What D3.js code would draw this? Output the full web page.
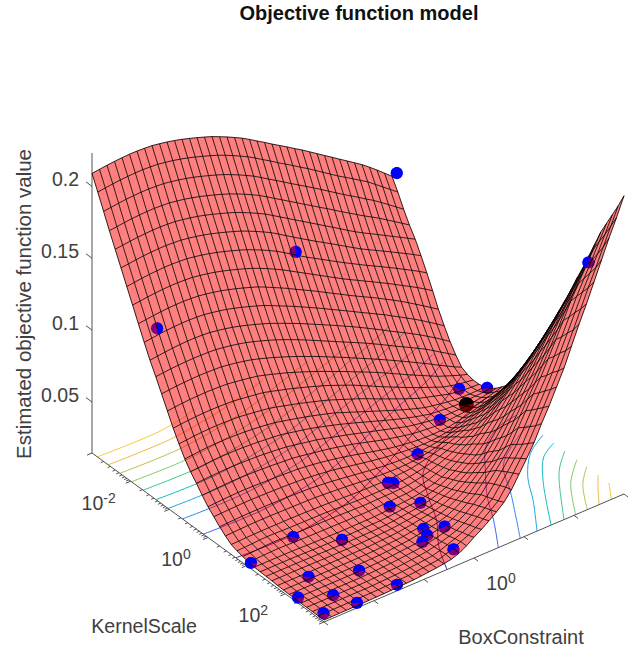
<!DOCTYPE html>
<html>
<head>
<meta charset="utf-8">
<script src="https://cdn.jsdelivr.net/npm/d3@7"></script>
<style>
body { margin: 0; background: white; }
text { font-family: "Liberation Sans", Arial, sans-serif; fill: #404040; }
</style>
</head>
<body>
<div id="chart"></div>
<script>
// objective value x 1000, one row per KernelScale step, one column per BoxConstraint step
// both run evenly over the log range 1e-3..1e3
const surfaceValues = [
[209,209.6,210.2,210.7,211,211.2,211.2,210.9,210.5,209.6,208.6,207.4,206,204.4,202.7,200.9,199,196.7,194.3,191.7,189,185.9,182.6,179.4,176,172.8,169.6,166.2,163,159.5,156,152.5,149,145.5,142,138.5,135,131,126.8,122.4,118],
[199,199.6,200.2,200.7,201,201.2,201.2,200.9,200.5,199.6,198.6,197.4,196,194.4,192.7,190.9,189,186.7,184.3,181.7,179,175.9,172.6,169.4,166,162.8,159.6,156.2,153,149.5,146,142.5,139,135.8,132.6,129.2,126,122,118,114,110],
[188.5,189.1,189.7,190.2,190.5,190.7,190.7,190.4,190,189.1,188.1,186.9,185.5,183.9,182.2,180.4,178.5,176.2,173.8,171.2,168.5,165.3,162,158.8,155.5,152.2,149,145.8,142.5,139.2,135.8,132.4,129,125.8,122.6,119.2,116,112.4,108.6,104.8,101],
[178,178.6,179.2,179.7,180,180.2,180.2,179.9,179.5,178.6,177.6,176.4,175,173.4,171.7,169.9,168,165.7,163.3,160.7,158,154.8,151.5,148.3,145,141.8,138.5,135.3,132,128.8,125.5,122.2,119,115.8,112.6,109.6,106.5,103.2,99.8,96.4,93],
[168,168.6,169.2,169.7,170,170.2,170.2,169.9,169.5,168.6,167.6,166.4,165,163.4,161.7,159.9,158,155.7,153.3,150.7,148,144.8,141.5,138.3,135,131.8,128.5,125.3,122,118.8,115.5,112.2,109,106,103.2,100.4,97.5,94.6,91.8,88.9,86],
[158,158.6,159.2,159.7,160,160.2,160.2,159.9,159.5,158.6,157.6,156.4,155,153.4,151.7,149.9,148,145.7,143.3,140.7,138,134.8,131.5,128.2,125,121.8,118.6,115.6,112.5,109.4,106.2,103.1,100,97.2,94.5,91.8,89,86.2,83.4,80.5,77.5],
[148,148.6,149.2,149.7,150,150.2,150.2,149.9,149.5,148.6,147.6,146.4,145,143.4,141.7,139.9,138,135.7,133.3,130.7,128,124.8,121.5,118.2,115,112,109,106,103,100,97.2,94.3,91.5,88.8,86.1,83.3,80.5,77.6,74.7,71.7,68.5],
[138,138.6,139.2,139.7,140,140.2,140.2,139.9,139.5,138.6,137.6,136.4,135,133.4,131.7,129.9,128,125.7,123.3,120.7,118,115,112,109,106,103,100,97,94,91.2,88.5,85.7,83,80.2,77.4,74.5,71.5,68.6,65.6,62.4,59],
[128,128.6,129.2,129.7,130,130.2,130.2,129.9,129.5,128.6,127.6,126.4,125,123.4,121.7,119.9,118,115.6,113.1,110.6,108,105.2,102.5,99.8,97,94.1,91.2,88.4,85.5,82.7,80,77.3,74.5,71.6,68.7,65.7,62.5,59.2,55.9,52.5,49],
[118,118.6,119.2,119.7,120,120.2,120.2,119.9,119.5,118.6,117.6,116.4,115,113.4,111.7,109.9,108,105.7,103.3,100.9,98.5,95.9,93.3,90.7,88,85.2,82.5,79.8,77,74.2,71.5,68.7,66,63,60,57,54,50.8,47.4,44,40.5],
[108.5,109.1,109.7,110.2,110.5,110.7,110.7,110.4,110,109.1,108.1,106.9,105.5,103.9,102.2,100.4,98.5,96.3,94.1,91.8,89.5,87,84.5,82,79.5,76.9,74.3,71.7,69,66.2,63.4,60.5,57.5,54.7,51.9,49,46,42.8,39.5,36.1,32.5],
[100,100.5,101,101.3,101.5,101.6,101.5,101.3,101,100.2,99.3,98.2,97,95.4,93.7,91.9,90,87.9,85.7,83.4,81,78.5,76,73.5,71,68.5,66,63.5,61,58.3,55.6,52.8,50,47.3,44.6,41.8,39,35.8,32.5,29.3,26],
[91,91.5,92,92.3,92.5,92.6,92.5,92.3,92,91.2,90.3,89.2,88,86.4,84.7,82.9,81,79,76.9,74.7,72.5,70.2,67.8,65.4,63,60.5,58,55.5,53,50.4,47.8,45.2,42.5,39.8,37,34.3,31.5,28.5,25.8,23,20.5],
[82,82.5,83,83.3,83.5,83.6,83.5,83.3,83,82.2,81.4,80.5,79.5,78,76.4,74.7,73,71.1,69.1,67.1,65,62.8,60.5,58.3,56,53.6,51.3,48.9,46.5,43.9,41.3,38.7,36,33.5,31,28.5,26,24,22,20.1,18.5],
[73,73.5,74,74.3,74.5,74.6,74.5,74.3,74,73.3,72.6,71.8,71,69.6,68.1,66.6,65,63.3,61.6,59.8,58,56,53.8,51.7,49.5,47,44.5,42,39.5,37.1,34.7,32.3,30,27.8,25.7,23.6,21.5,20.2,19,18.2,17.5],
[65,65.5,66,66.3,66.5,66.6,66.5,66.3,66,65.3,64.6,63.8,63,61.7,60.3,58.9,57.5,55.9,54.3,52.7,51,49,47,45,43,40.8,38.5,36.2,34,31.8,29.6,27.5,25.5,24,22.5,21,19.5,18.7,18,17.7,17.5],
[57.5,57.9,58.4,58.8,59,59,59,58.8,58.5,58,57.5,56.8,56,54.8,53.6,52.3,51,49.6,48.1,46.6,45,43,41,39,37,35,33,31,29,27.1,25.3,23.6,22,21,20,19.2,18.5,18.2,18.1,18.2,18.5],
[51.5,51.9,52.4,52.8,53,53,53,52.8,52.5,52.1,51.6,51.1,50.5,49.4,48.3,47.2,46,44.6,43.1,41.6,40,38.3,36.6,34.8,33,31.2,29.4,27.7,26,24.5,23,21.7,20.5,20,19.5,19.2,19,19.3,19.6,20,20.5],
[46.5,46.8,47.1,47.3,47.5,47.5,47.4,47.2,47,46.6,46.1,45.6,45,44,43,42,41,39.7,38.3,36.9,35.5,34,32.5,31,29.5,28,26.5,25,23.5,22.4,21.5,20.7,20,19.8,19.8,19.9,20,20.7,21.5,22.4,23.5],
[41,41.3,41.6,41.8,42,42,41.9,41.7,41.5,41.2,40.8,40.4,40,39.2,38.3,37.4,36.5,35.5,34.4,33.2,32,30.5,29,27.5,26,24.8,23.6,22.5,21.5,20.8,20.3,19.9,19.8,20.2,20.6,21.2,22,23.2,24.5,26,27.5],
[36,36.3,36.6,36.8,37,37,36.9,36.7,36.5,36.3,36.1,35.8,35.5,34.9,34.2,33.4,32.5,31.5,30.4,29.2,28,26.7,25.4,24.2,23,22.1,21.3,20.6,20,19.8,19.7,19.8,20,21,22.2,23.5,25,26.5,28.1,29.8,31.5],
[32,32.2,32.4,32.6,32.8,32.8,32.7,32.6,32.5,32.3,32.1,31.8,31.5,31,30.4,29.7,29,28,27,26,25,24.1,23.2,22.4,21.8,21.2,20.8,20.4,20.2,20.4,20.8,21.6,22.5,24,25.8,27.6,29.5,31.6,33.8,36.1,38.5],
[28,28.2,28.4,28.6,28.7,28.7,28.7,28.6,28.5,28.4,28.2,28,27.8,27.3,26.8,26.2,25.5,24.8,24,23.3,22.5,21.9,21.4,21,20.7,20.6,20.7,21,21.5,22.4,23.5,24.7,26,28.1,30.3,32.6,35,37.8,40.6,43.5,46.5],
[24.5,24.7,24.9,25.1,25.2,25.2,25.2,25.1,25,24.9,24.8,24.7,24.5,24.2,23.8,23.4,23,22.5,22,21.5,21,20.7,20.5,20.4,20.5,20.9,21.5,22.4,23.5,25,26.5,28.2,30,32.6,35.3,38.1,41,44.3,47.7,51.3,55],
[21.5,21.6,21.8,21.9,22,22,22,22,22,21.9,21.8,21.6,21.5,21.3,21,20.8,20.5,20.3,20.2,20.1,20,20.1,20.3,20.6,21,22.1,23.3,24.6,26,27.8,29.7,31.8,34,37,40.2,43.5,47,51,55,59.4,64],
[20,20.2,20.5,20.8,21,20.9,20.7,20.6,20.5,20.4,20.4,20.3,20.2,20,19.7,19.5,19.3,19.2,19.2,19.2,19.2,19.4,19.7,20.4,21.3,22.5,23.9,25.6,27.5,29.7,32.1,34.9,38,41.5,45.2,49.4,54,58.5,63,68,73],
[19,19.2,19.5,19.8,20,19.9,19.8,19.6,19.5,19.4,19.4,19.3,19.2,19.1,18.9,18.8,18.6,18.7,18.8,18.9,19,19.2,19.6,20.5,21.7,23.1,24.9,27,29.5,32.3,35.6,39.1,43,47.1,51.5,56.1,61,66,71,76.5,82],
[18,18.2,18.4,18.6,18.7,18.6,18.4,18.3,18.2,18.1,18.1,18,18,17.9,17.9,17.8,17.8,18,18.2,18.4,18.7,18.9,19.5,20.6,22,23.9,26,28.6,31.5,35,38.8,43.2,48,53,58,63.4,69,74.4,79.8,85.4,91],
[17.5,17.5,17.5,17.5,17.5,17.4,17.3,17.1,17,16.9,16.9,16.8,16.8,16.8,16.9,16.9,17,17.3,17.7,18.1,18.5,18.9,19.7,21,22.5,24.6,27.4,30.6,34,38.6,43.4,48.6,54,59.6,65.2,71,77,83,89,95,101],
[17.2,17.2,17.2,17.2,17.2,17.1,17,16.9,16.8,16.8,16.7,16.7,16.7,16.8,16.9,17,17.1,17.5,17.9,18.5,19,19.6,20.6,22.1,24,26.6,29.6,33,36.5,41.5,47,53,59,65.4,71.8,78.4,85,91.4,98,104.4,111],
[17,17,17,17,17,16.9,16.8,16.8,16.7,16.7,16.6,16.6,16.6,16.7,16.8,17,17.2,17.7,18.3,18.9,19.5,20.4,21.6,23.4,25.5,28.4,31.6,35.2,39,44.6,50.6,57.2,64,71,78,85.4,93,100,107,114,121],
[16.8,16.8,16.8,16.8,16.8,16.7,16.7,16.6,16.6,16.6,16.6,16.6,16.6,16.8,17,17.2,17.5,18.1,18.7,19.4,20.2,21.2,22.6,24.6,27,30.4,34,38.2,42.5,48.6,55.2,62.4,70,77.6,85.2,93,101,108.4,116,123.4,131],
[16.5,16.5,16.5,16.5,16.5,16.5,16.5,16.5,16.5,16.5,16.5,16.5,16.5,16.8,17.1,17.4,17.8,18.5,19.2,20.1,21,22,23.6,26,29,32.8,37,41.6,47,53.5,60.6,68.2,76,84.4,92.6,101.2,110,117.8,126,134,142],
[16.3,16.3,16.3,16.3,16.3,16.3,16.3,16.3,16.3,16.3,16.4,16.5,16.6,16.9,17.2,17.6,18,18.8,19.6,20.6,21.7,23,25,27.8,31,35.4,40.2,45.2,50.5,57.6,65.6,73.6,82,90.8,99.8,108.8,118,126.4,135,143.4,152],
[16.2,16.2,16.2,16.2,16.2,16.2,16.2,16.2,16.2,16.3,16.4,16.5,16.7,17,17.4,17.9,18.3,19.2,20.1,21.2,22.3,24,26.4,29.6,33,38,43,48.4,54,62,70.6,79.2,88,97.4,107,117,127,136,145,154,163],
[16.1,16.1,16.1,16.1,16.1,16.1,16.1,16.1,16.1,16.3,16.4,16.6,16.8,17.2,17.7,18.1,18.6,19.6,20.6,21.8,23,25,27.8,31.4,35.5,41,46.8,52.8,59,67.6,76.6,85.8,95,105,115,125.4,136,145.2,155,164.4,174],
[16,16,16,16,16,16,16,16,16,16.2,16.4,16.7,17,17.4,17.9,18.4,19,20,21.1,22.4,24,26.4,29.6,33.6,38,44,50.4,57,64,73.4,83,92.4,102,112.6,123.6,134.6,146,155.6,165.4,175,185],
[16,16,16,16,16,16,16,16,16.1,16.3,16.5,16.8,17,17.5,18,18.5,19.1,20.3,21.6,23.2,25,27.8,31.2,35.2,39.5,46,52.8,59.8,67,76.6,86.4,96.2,106,117,128.4,140,152,162.4,172.8,183.4,194],
[16,16,16,16,16.1,16.1,16.1,16.1,16.2,16.4,16.6,16.9,17.1,17.6,18.1,18.6,19.2,20.6,22.4,24.4,26.5,29.4,33,37,41,48,55.2,62.6,70,80,90.2,100.4,111,122.4,134,146,158,169,180,191.4,203],
[16,16,16,16,16.1,16.1,16.2,16.2,16.3,16.5,16.7,17,17.2,17.7,18.2,18.7,19.3,21,23,25.2,27.5,30.6,34.4,38.4,42.5,49.8,57.4,65.4,73.5,83.6,94,104.4,115,126.8,139,151.4,164,175.6,187.8,200,212],
[16,16,16.1,16.1,16.2,16.2,16.3,16.4,16.5,16.7,16.9,17.1,17.3,17.8,18.3,18.9,19.5,20.5,22.3,25.3,29,32.3,36,40,44.5,51,59.5,68,77,88,98,109,120,133,146,158,171,184,197,209,222]
];

// tick labels and axis text
const zTicks = [0.05, 0.1, 0.15, 0.2];
const kernelMajorTicks = [-3, -2, -1, 0, 1, 2, 3];
const kernelLabels = [-2, 0, 2];
const boxMajorTicks = [-3, -2, -1, 0, 1, 2, 3];
const boxLabels = [0];
const minorSteps = [2, 3, 4, 5, 6, 7, 8, 9];

// evaluated points, log10 of the two parameters and the objective
const pointKernel = [-2.88, -2.1, -1.68, 2.16, -0.72, -0.54, -0.21, 0.38, 0.66, 0.72, 1.42, 1.17, 2.24, 2.04, 2.29, 2.22, 2.82, 0.96, 1.41, 1.11, 1.9, 2.24, 2.91, 2.54, 2.25, 2.92, 2.91];
const pointBox = [3, 0.375, -2.72, 2.94, 2.58, 3, 1.8, 0.9, 0.09, 0.15, 0.15, -0.27, 0, -0.27, -0.48, -0.33, -0.27, -2.04, -1.41, -3, -2.46, -1.71, -1.47, -2.46, -2.94, -2.28, -2.94];
const pointValue = [0.1226, 0.122, 0.123, 0.16, 0.021, 0.019, 0.021, 0.022, 0.0197, 0.0197, 0.0197, 0.0184, 0.0215, 0.02, 0.019, 0.02, 0.021, 0.0195, 0.017, 0.0186, 0.0165, 0.0162, 0.016, 0.0162, 0.016, 0.0156, 0.018];
const bestPoint = [-0.3, 2.4, 0.021];

// floor contours, [fraction along KernelScale, fraction along BoxConstraint]
const contourLevels = [0.02, 0.04, 0.06, 0.08, 0.1, 0.12, 0.14, 0.16, 0.18, 0.2, 0.22];
const contourColors = ['#3e26a8', '#4060f0', '#2d87f7', '#1ca6e0', '#13bcc0', '#40c590', '#85ca68', '#c2bf50', '#eeba48', '#fcc93a', '#f9fb15'];
const contourLeft = [
    [[0.62, 0], [0.625, 0.2], [0.59, 0.4], [0.55, 0.5], [0.505, 0.6], [0.454, 0.7], [0.406, 0.8], [0.36, 0.9], [0.3, 1]],
    [[0.48, 0], [0.484, 0.2], [0.456, 0.4], [0.426, 0.5], [0.386, 0.6], [0.345, 0.7], [0.306, 0.8], [0.27, 0.9], [0.22, 1]],
    [[0.39, 0], [0.394, 0.2], [0.367, 0.4], [0.34, 0.5], [0.308, 0.6], [0.278, 0.7], [0.246, 0.8], [0.216, 0.9], [0.175, 1]],
    [[0.328, 0], [0.332, 0.2], [0.305, 0.4], [0.28, 0.5], [0.248, 0.6], [0.216, 0.7], [0.186, 0.8], [0.155, 0.9], [0.12, 1]],
    [[0.276, 0], [0.28, 0.2], [0.25, 0.4], [0.226, 0.5], [0.193, 0.6], [0.159, 0.7], [0.125, 0.8], [0.09, 0.9], [0.05, 1]],
    [[0.22, 0], [0.224, 0.2], [0.195, 0.4], [0.17, 0.5], [0.137, 0.6], [0.105, 0.7], [0.07, 0.8], [0.036, 0.9], [0, 0.99]],
    [[0.17, 0], [0.174, 0.2], [0.145, 0.4], [0.12, 0.5], [0.087, 0.6], [0.055, 0.7], [0.022, 0.8], [0, 0.865]],
    [[0.12, 0], [0.124, 0.2], [0.095, 0.4], [0.07, 0.5], [0.037, 0.6], [0.007, 0.7], [0, 0.72]],
    [[0.07, 0], [0.074, 0.2], [0.062, 0.3], [0.045, 0.4], [0.02, 0.5], [0, 0.57]],
    [[0.023, 0], [0.027, 0.2], [0.012, 0.3], [0, 0.34]]
];
const contourRight = [
    [[1, 0.41], [0.9, 0.46], [0.8, 0.53], [0.7, 0.58], [0.6, 0.64], [0.5, 0.8], [0.45, 0.9], [0.42, 1]],
    [[1, 0.581], [0.889, 0.651], [0.8, 0.7], [0.7, 0.77], [0.6, 0.85], [0.55, 0.93], [0.535, 1]],
    [[1, 0.654], [0.816, 0.765], [0.7, 0.83], [0.62, 0.94], [0.59, 1]],
    [[1, 0.71], [0.88, 0.79], [0.783, 0.847], [0.7, 0.92], [0.651, 1]],
    [[1, 0.757], [0.819, 0.87], [0.734, 0.938], [0.698, 1]],
    [[1, 0.8], [0.85, 0.9], [0.8, 0.94], [0.745, 1]],
    [[1, 0.839], [0.874, 0.92], [0.797, 1]],
    [[1, 0.878], [0.9, 0.94], [0.839, 1]],
    [[1, 0.917], [0.94, 0.96], [0.888, 1]],
    [[1, 0.958], [0.935, 1]],
    [[1, 0.995], [0.995, 1]]
];

const width = 633, height = 652;
const floorLeft = { x: 92, y: 453 };   // KernelScale min, BoxConstraint min
const kernelRun = { x: 232, y: 169 };  // screen run of the KernelScale axis
const boxRun = { x: 300, y: -128 };    // screen run of the BoxConstraint axis

const logFraction = d3.scaleLinear().domain([-3, 3]).range([0, 1]);
const zHeight = d3.scaleLinear().domain([0.0146, 0.2232]).range([0, 300]);

const svg = d3.select('#chart').append('svg')
    .attr('width', width)
    .attr('height', height);

// u along KernelScale, v along BoxConstraint, both 0..1
function project(u, v, z) {
    return [
        floorLeft.x + kernelRun.x * u + boxRun.x * v,
        floorLeft.y + kernelRun.y * u + boxRun.y * v - zHeight(z)
    ];
}

const rowCount = surfaceValues.length, colCount = surfaceValues[0].length;
const gridZ = surfaceValues.map(row => row.map(d => d / 1000));
const gridPoint = (i, j) => project(i / (rowCount - 1), j / (colCount - 1), gridZ[i][j]);
const lineGen = d3.line();

// floor contours
const contourLine = d3.line().curve(d3.curveCatmullRom.alpha(0.5));
const contourGroup = svg.append('g').attr('fill', 'none').attr('stroke-width', 1);
contourLeft.concat(contourRight).forEach((pts, n) => {
    const level = n < contourLeft.length ? n : n - contourLeft.length;
    contourGroup.append('path')
        .attr('d', contourLine(pts.map(p => project(p[0], p[1], zHeight.domain()[0]))))
        .attr('stroke', contourColors[level]);
});

// axis lines and ticks
const axisGroup = svg.append('g').attr('stroke', '#404040').attr('stroke-width', 0.9);
const floorZ = zHeight.domain()[0];
const topZ = zHeight.domain()[1];
function seg(a, b) {
    axisGroup.append('line').attr('x1', a[0]).attr('y1', a[1]).attr('x2', b[0]).attr('y2', b[1]);
}
seg(project(0, 0, floorZ), project(0, 0, topZ));
seg(project(0, 0, floorZ), project(1, 0, floorZ));
seg(project(1, 0, floorZ), project(1, 1, floorZ));

zTicks.forEach(t => {
    const p = project(0, 0, t);
    seg(p, [p[0] - 6, p[1] - 4.5]);
    svg.append('text')
        .attr('x', 79).attr('y', p[1])
        .attr('text-anchor', 'end')
        .style('font-size', '19.5px')
        .text(t);
});

kernelMajorTicks.forEach(t => {
    const p = project(logFraction(t), 0, floorZ);
    seg(p, [p[0] - 5, p[1] + 2.1]);
    if (t < 3) {
        minorSteps.forEach(m => {
            const q = project(logFraction(t + Math.log10(m)), 0, floorZ);
            seg(q, [q[0] - 2.8, q[1] + 1.2]);
        });
    }
});
boxMajorTicks.forEach(t => {
    const p = project(1, logFraction(t), floorZ);
    seg(p, [p[0] + 4, p[1] + 3]);
});

function powerLabel(x, y, exp) {
    const label = svg.append('text')
        .attr('x', x).attr('y', y)
        .attr('text-anchor', 'middle')
        .style('font-size', '19.5px')
        .text('10');
    label.append('tspan').attr('dy', -7).style('font-size', '14px').text(exp);
}
kernelLabels.forEach(t => {
    const p = project(logFraction(t), 0, floorZ);
    powerLabel(p[0] - 32, p[1] + 28.5, t);
});
boxLabels.forEach(t => {
    const p = project(1, logFraction(t), floorZ);
    powerLabel(p[0] + 27, p[1] + 32, t);
});

const cutAt = (u, v) => {
    // which side of a screen facing disc pokes out of the surface
    const i = Math.max(1, Math.min(rowCount - 2, Math.round(u * (rowCount - 1))));
    const j = Math.max(1, Math.min(colCount - 2, Math.round(v * (colCount - 1))));
    const hu = (zHeight(gridZ[i + 1][j]) - zHeight(gridZ[i - 1][j])) / (2 / (rowCount - 1));
    const hv = (zHeight(gridZ[i][j + 1]) - zHeight(gridZ[i][j - 1])) / (2 / (colCount - 1));
    const a = kernelRun.x, b = kernelRun.y - hu, c = boxRun.x, d = boxRun.y - hv;
    const e = -248 - 0.678 * hu, f = 192 - 0.678 * hv;
    const det = a * d - b * c;
    const gx = (e * d - b * f) / det;
    const gy = (a * f - c * e) / det;
    return Math.atan2(gx, -gy);
};

const points = pointKernel.map((k, n) => ({
    u: logFraction(k), v: logFraction(pointBox[n]), z: pointValue[n], color: 'blue', r: 6.1
}));
points.push({ u: logFraction(bestPoint[0]), v: logFraction(bestPoint[1]), z: bestPoint[2], color: 'black', r: 7.4 });
points.forEach(p => { p.pos = project(p.u, p.v, p.z); p.cut = cutAt(p.u, p.v); });

// whole discs first, they show through the translucent surface
svg.append('g').selectAll('circle').data(points).enter().append('circle')
    .attr('cx', d => d.pos[0])
    .attr('cy', d => d.pos[1])
    .attr('r', d => d.r)
    .attr('fill', d => d.color);

// surface cells, group opacity so neighbouring cells do not double up
const cells = [];
for (let i = 0; i < rowCount - 1; i++) {
    for (let j = 0; j < colCount - 1; j++) {
        cells.push([gridPoint(i, j), gridPoint(i + 1, j), gridPoint(i + 1, j + 1), gridPoint(i, j + 1)]);
    }
}
svg.append('g')
    .attr('opacity', 0.5)
    .selectAll('path').data(cells).enter().append('path')
    .attr('d', d => lineGen(d) + 'Z')
    .attr('fill', '#ff0000')
    .attr('stroke', '#ff0000')
    .attr('stroke-width', 0.4);

// mesh
const meshGroup = svg.append('g')
    .attr('fill', 'none')
    .attr('stroke', 'black')
    .attr('stroke-opacity', 0.8)
    .attr('stroke-width', 1);
d3.range(rowCount).forEach(i => {
    meshGroup.append('path').attr('d', lineGen(d3.range(colCount).map(j => gridPoint(i, j))));
});
d3.range(colCount).forEach(j => {
    meshGroup.append('path').attr('d', lineGen(d3.range(rowCount).map(i => gridPoint(i, j))));
});

// part of each disc in front of the surface
const halfArc = d3.arc().innerRadius(0);
svg.append('g').selectAll('path').data(points).enter().append('path')
    .attr('transform', d => 'translate(' + d.pos[0] + ',' + d.pos[1] + ')')
    .attr('d', d => halfArc({ outerRadius: d.r, startAngle: d.cut - Math.PI / 2, endAngle: d.cut + Math.PI / 2 }))
    .attr('fill', d => d.color);

// titles
svg.append('text')
    .attr('x', 359).attr('y', 20)
    .attr('text-anchor', 'middle')
    .style('font-size', '20px')
    .style('font-weight', 'bold')
    .style('fill', '#111')
    .text('Objective function model');
svg.append('text')
    .attr('transform', 'translate(31,304) rotate(-90)')
    .attr('text-anchor', 'middle')
    .style('font-size', '20.5px')
    .text('Estimated objective function value');
svg.append('text')
    .attr('x', 144).attr('y', 633)
    .attr('text-anchor', 'middle')
    .style('font-size', '19.6px')
    .text('KernelScale');
svg.append('text')
    .attr('x', 521).attr('y', 644)
    .attr('text-anchor', 'middle')
    .style('font-size', '20px')
    .text('BoxConstraint');
</script>
</body>
</html>
